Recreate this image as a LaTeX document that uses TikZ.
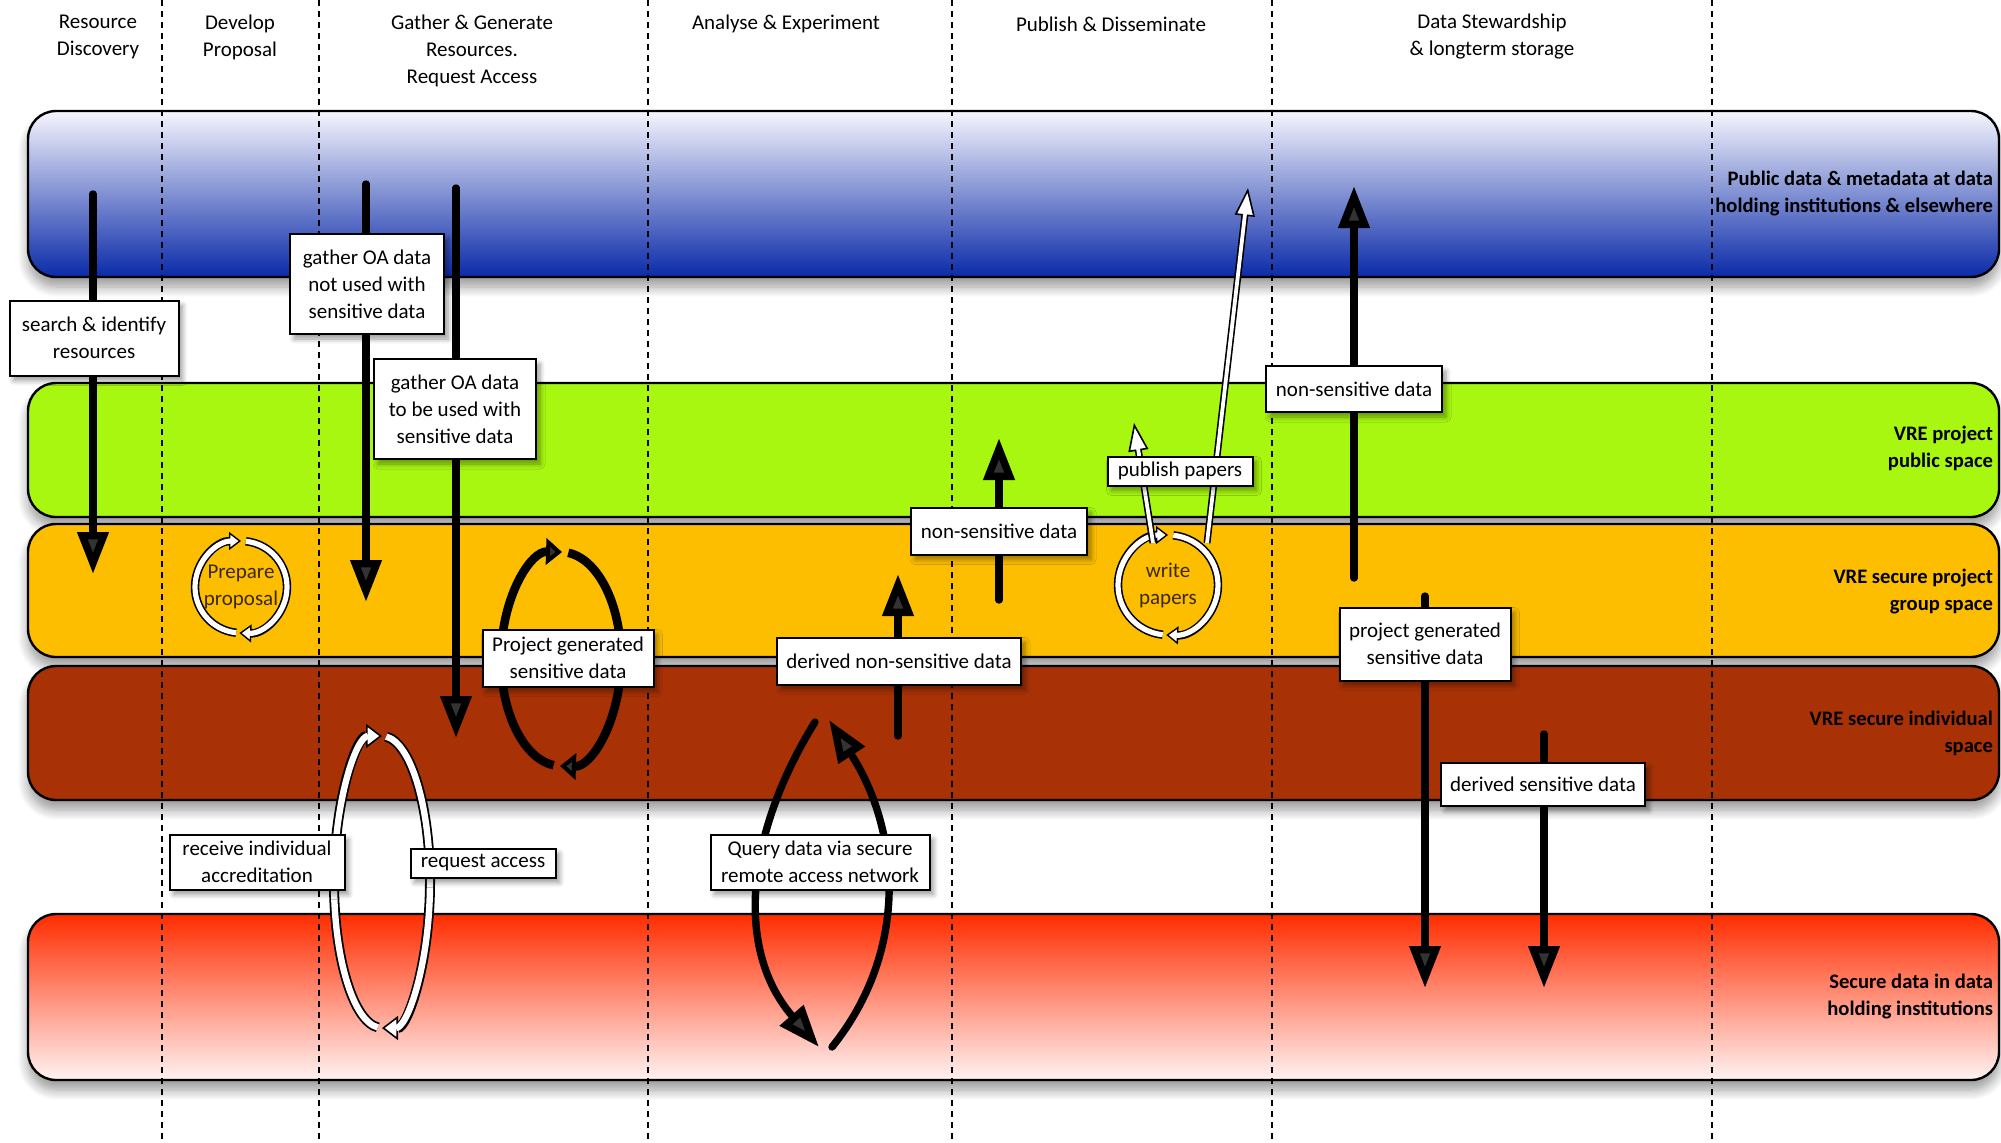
\documentclass[tikz,border=0pt]{standalone}
\usepackage{fontspec}
\setmainfont{Carlito}
\usetikzlibrary{arrows.meta,shadows.blur}
\definecolor{bluetop}{RGB}{246,246,253}
\definecolor{bluebot}{RGB}{10,42,168}
\definecolor{vgreen}{RGB}{168,247,16}
\definecolor{vorange}{RGB}{253,190,0}
\definecolor{vbrown}{RGB}{168,49,6}
\definecolor{redtop}{RGB}{255,45,0}
\definecolor{redbot}{RGB}{255,243,243}
\definecolor{ringtext}{RGB}{60,40,10}
\begin{document}
\begin{tikzpicture}[x=0.5pt,y=-0.5pt,
  font=\fontsize{10.5}{13.5}\selectfont,
  band/.style={rounded corners=14pt, draw=black, line width=1.2pt,
    blur shadow={shadow xshift=0pt, shadow yshift=-5pt, shadow blur radius=5pt, shadow blur steps=10}},
  phase/.style={dash pattern=on 3pt off 2.5pt, line width=1pt},
  lbl/.style={draw=black, fill=white, line width=1pt, align=center, inner sep=1pt,
    blur shadow={shadow xshift=2pt, shadow yshift=-2.5pt, shadow blur radius=2.5pt, shadow blur steps=6}},
  hdr/.style={align=center},
  bandlbl/.style={anchor=east, align=right, font=\fontsize{10.3}{13.5}\selectfont\bfseries},
  big/.style={line width=3.7pt, line cap=round, -{Triangle[length=21pt,width=15pt]}},
  ringtxt/.style={align=center, text=ringtext},
  wouter/.style={line width=#1, draw=black},
  winner/.style={line width=#1, draw=white},
]
\useasboundingbox (0,0) rectangle (2001,1142);

% bands
\path[band, top color=bluetop, bottom color=bluebot] (28,111) rectangle (1999,277);
\path[band, fill=vgreen] (28,383) rectangle (1999,517);
\path[band, fill=vorange] (28,524) rectangle (1999,657);
\path[band, fill=vbrown] (28,666) rectangle (1999,800);
\path[band, top color=redtop, bottom color=redbot] (28,914) rectangle (1999,1080);

% phase separators
\foreach \xx in {162,319,648,952,1272,1712}
  \draw[phase] (\xx,0) -- (\xx,1142);

% headers
\node[hdr] (h1) at (98,37) {Resource\\Discovery};
\node[hdr] (h2) at (240,37) {Develop\\Proposal};
\node[hdr] (h3) at (472,51) {Gather \& Generate\\Resources.\\Request Access};
\node[hdr] (h4) at (786,24) {Analyse \& Experiment};
\node[hdr] (h5) at (1111,24) {Publish \& Disseminate};
\node[hdr] (h6) at (1492,37) {Data Stewardship\\\& longterm storage};

% band labels
\node[bandlbl] (b1) at (2000,194) {Public data \& metadata at data\\holding institutions \& elsewhere};
\node[bandlbl] (b2) at (2000,448) {VRE project\\public space};
\node[bandlbl] (b3) at (2000,592) {VRE secure project\\group space};
\node[bandlbl] (b4) at (2000,733) {VRE secure individual\\space};
\node[bandlbl] (b5) at (2000,996) {Secure data in data\\holding institutions};

% coordinates for free arrow ends
\coordinate (s1) at (93,194);   \coordinate (e1) at (93,574);
\coordinate (s2) at (366,184);  \coordinate (e2) at (366,602);
\coordinate (s3) at (456,188);  \coordinate (e3) at (456,738);
\coordinate (s4) at (898,736);  \coordinate (e4) at (898,574);
\coordinate (s5) at (999,600);  \coordinate (e5) at (999,438);
\coordinate (s6) at (1354,578); \coordinate (e6) at (1354,186);
\coordinate (s7) at (1425,596); \coordinate (e7) at (1425,988);
\coordinate (s8) at (1544,734); \coordinate (e8) at (1544,988);
\coordinate (q1s) at (815,722); \coordinate (q1e) at (819,1047);
\coordinate (q2s) at (832,1047); \coordinate (q2e) at (829,720);
\coordinate (pa1) at (1153,543); \coordinate (pa1e) at (1134,423);
\coordinate (pa2) at (1207,543); \coordinate (pa2e) at (1248,188);
\coordinate (pg) at (561,659);
\coordinate (ra) at (382,882);
\coordinate (pp) at (241,587);
\coordinate (wp) at (1168,585);

% straight black arrows
\draw[big] (s1) -- (e1);
\draw[big] (s2) -- (e2);
\draw[big] (s3) -- (e3);
\draw[big] (s4) -- (e4);
\draw[big] (s5) -- (e5);
\draw[big] (s6) -- (e6);
\draw[big] (s7) -- (e7);
\draw[big] (s8) -- (e8);

% query arrows
\draw[big] (q1s) .. controls (745,835) and (735,950) .. (q1e);
\draw[big] (q2s) .. controls (910,950) and (900,830) .. (q2e);

% project generated loop (black)
\draw[line width=4.3pt, -{Triangle[length=8pt,width=13pt]}]
  ([shift={(263:30pt and 53.5pt)}]pg) arc[start angle=263,end angle=89,x radius=30pt,y radius=53.5pt];
\draw[line width=4.3pt, -{Triangle[length=8pt,width=13pt]}]
  ([shift={(83:30pt and 53.5pt)}]pg) arc[start angle=83,end angle=-91,x radius=30pt,y radius=53.5pt];

% request access loop (white)
\draw[wouter=5pt, -{Triangle[length=8pt,width=12pt,fill=white,line width=0.8pt]}]
  ([shift={(265:24pt and 73pt)}]ra) arc[start angle=265,end angle=90,x radius=24pt,y radius=73pt];
\draw[winner=3.2pt, shorten >=7pt]
  ([shift={(265:24pt and 73pt)}]ra) arc[start angle=265,end angle=90,x radius=24pt,y radius=73pt];
\draw[wouter=5pt, -{Triangle[length=8pt,width=12pt,fill=white,line width=0.8pt]}]
  ([shift={(85:24pt and 73pt)}]ra) arc[start angle=85,end angle=-90,x radius=24pt,y radius=73pt];
\draw[winner=3.2pt, shorten >=7pt]
  ([shift={(85:24pt and 73pt)}]ra) arc[start angle=85,end angle=-90,x radius=24pt,y radius=73pt];

% prepare proposal ring
\draw[wouter=4.2pt, -{Triangle[length=6pt,width=9pt,fill=white,line width=0.7pt]}]
  ([shift={(264:23pt)}]pp) arc[start angle=264,end angle=90,radius=23pt];
\draw[winner=2.6pt, shorten >=5pt]
  ([shift={(264:23pt)}]pp) arc[start angle=264,end angle=90,radius=23pt];
\draw[wouter=4.2pt, -{Triangle[length=6pt,width=9pt,fill=white,line width=0.7pt]}]
  ([shift={(84:23pt)}]pp) arc[start angle=84,end angle=-92,radius=23pt];
\draw[winner=2.6pt, shorten >=5pt]
  ([shift={(84:23pt)}]pp) arc[start angle=84,end angle=-92,radius=23pt];
\node[ringtxt] (pptxt) at (pp) {Prepare\\proposal};

% write papers ring
\draw[wouter=4.2pt, -{Triangle[length=6pt,width=9pt,fill=white,line width=0.7pt]}]
  ([shift={(264:25pt)}]wp) arc[start angle=264,end angle=90,radius=25pt];
\draw[winner=2.6pt, shorten >=5pt]
  ([shift={(264:25pt)}]wp) arc[start angle=264,end angle=90,radius=25pt];
\draw[wouter=4.2pt, -{Triangle[length=6pt,width=9pt,fill=white,line width=0.7pt]}]
  ([shift={(84:25pt)}]wp) arc[start angle=84,end angle=-92,radius=25pt];
\draw[winner=2.6pt, shorten >=5pt]
  ([shift={(84:25pt)}]wp) arc[start angle=84,end angle=-92,radius=25pt];
\node[ringtxt] (wptxt) at (wp) {write\\papers};

% publish arrows (white)
\draw[wouter=3.5pt, -{Triangle[length=14pt,width=10pt,fill=white,line width=0.8pt]}] (pa1) -- (pa1e);
\draw[winner=1.9pt, shorten >=13pt] (pa1) -- (pa1e);
\draw[wouter=3.5pt, -{Triangle[length=14pt,width=10pt,fill=white,line width=0.8pt]}] (pa2) -- (pa2e);
\draw[winner=1.9pt, shorten >=13pt] (pa2) -- (pa2e);

% label boxes
\node[lbl, minimum width=84.5pt, minimum height=37.5pt] (search) at (94,338) {search \& identify\\resources};
\node[lbl, minimum width=77pt, minimum height=50pt] (g1) at (367,284) {gather OA data\\not used with\\sensitive data};
\node[lbl, minimum width=81pt, minimum height=50pt] (g2) at (455,409) {gather OA data\\to be used with\\sensitive data};
\node[lbl, minimum width=85.5pt, minimum height=28.5pt] (pg1) at (568,658) {Project generated\\sensitive data};
\node[lbl, minimum width=87.5pt, minimum height=27.5pt] (rcv) at (257,862) {receive individual\\accreditation};
\node[lbl, minimum width=72.5pt, minimum height=14.5pt] (req) at (483,863) {request access};
\node[lbl, minimum width=109.5pt, minimum height=27.5pt] (qry) at (820,862) {Query data via secure\\remote access network};
\node[lbl, minimum width=122pt, minimum height=23.5pt] (dns) at (899,661) {derived non-sensitive data};
\node[lbl, minimum width=88pt, minimum height=23.5pt] (ns1) at (999,531) {non-sensitive data};
\node[lbl, minimum width=72.5pt, minimum height=14.5pt] (pub) at (1180,471) {publish papers};
\node[lbl, minimum width=88pt, minimum height=23pt] (ns2) at (1354,389) {non-sensitive data};
\node[lbl, minimum width=85.5pt, minimum height=36.5pt] (pg2) at (1425,644) {project generated\\sensitive data};
\node[lbl, minimum width=102pt, minimum height=21.5pt] (ds) at (1543,784) {derived sensitive data};
\end{tikzpicture}
\end{document}
